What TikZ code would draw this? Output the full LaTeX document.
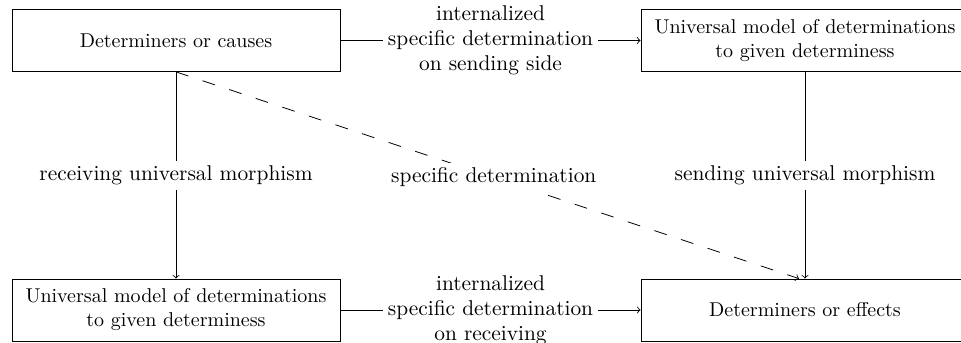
\documentclass[tikz,border=0pt]{standalone}
\begin{document}
\begin{tikzpicture}[x=0.5pt,y=-0.5pt,
  box/.style={draw, inner sep=0pt, align=center, minimum width=164pt, minimum height=31pt},
  lbl/.style={fill=white, inner sep=2.5pt, align=center, font=\fontsize{10.7pt}{12.6pt}\selectfont},
  arr/.style={->, line width=0.4pt},
  dasharr/.style={arr, dash pattern=on 6.5pt off 7.5pt}]
\useasboundingbox (0,0) rectangle (961,342);

% the four objects
\node[box] (causes)  at (176,40.5) {Determiners or causes};
\node[box] (modelS)  at (805,40.5) {Universal model of determinations\\to given determiness};
\node[box] (modelR)  at (176,310)  {Universal model of determinations\\to given determiness};
\node[box] (effects) at (805,310)  {Determiners or effects};

% morphisms
\draw[arr] (causes) -- node[lbl] {internalized\\specific determination\\on sending side} (modelS);
\draw[arr] (modelR) -- node[lbl] {internalized\\specific determination\\on receiving} (effects);
\draw[arr] (causes) -- node[lbl] {receiving universal morphism} (modelR);
\draw[arr] (modelS) -- node[lbl] {sending universal morphism} (effects);
\draw[dasharr] (causes.south) -- node[lbl, pos=0.51] {specific determination} ([xshift=-3pt]effects.north);
\end{tikzpicture}
\end{document}
